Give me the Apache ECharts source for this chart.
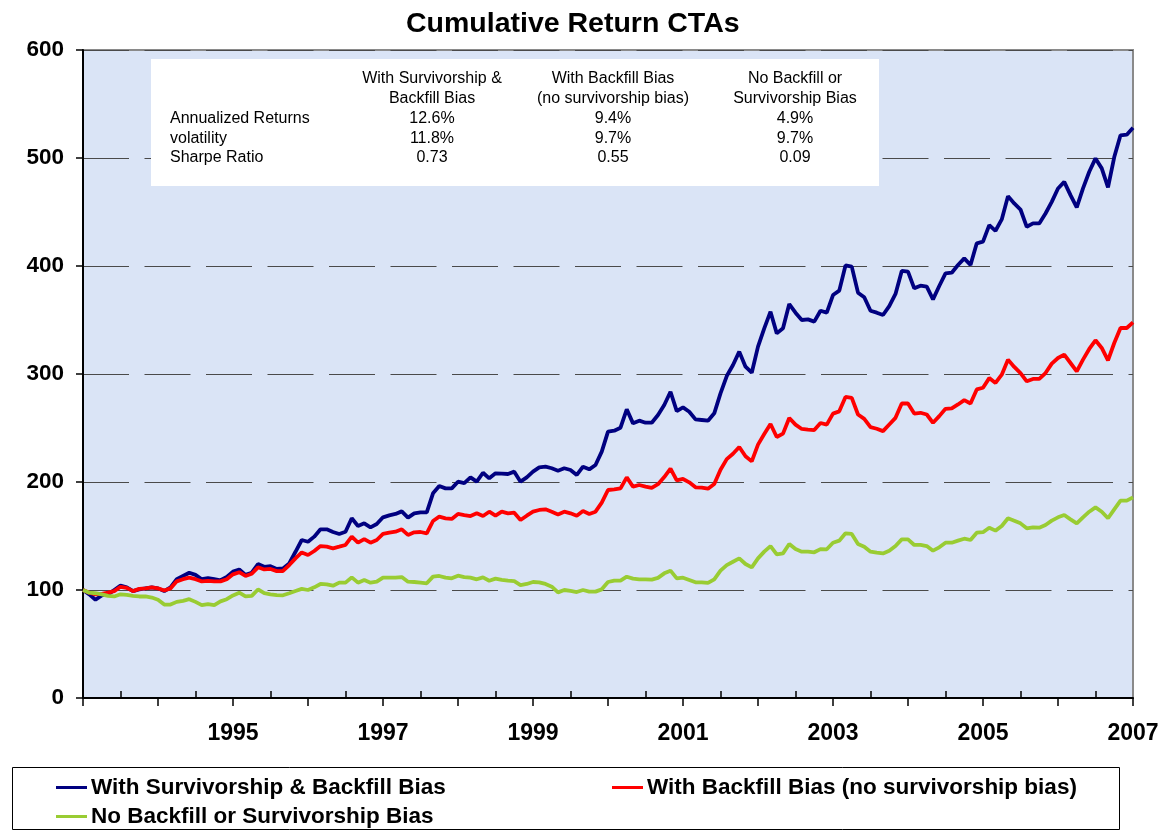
<!DOCTYPE html>
<html>
<head>
<meta charset="utf-8">
<title>Cumulative Return CTAs</title>
<script src="https://cdn.jsdelivr.net/npm/echarts@6/dist/echarts.min.js"></script>
<style>
  html, body { margin: 0; padding: 0; background: #fff; }
  #chart { width: 1166px; height: 831px; }
</style>
</head>
<body>
<div id="chart"></div>
<script>
// monthly categories, Jan 1993 .. Jan 2007
var months = [];
for (var y = 1993; y <= 2006; y++) {
  for (var m = 1; m <= 12; m++) months.push(y + '-' + (m < 10 ? '0' + m : m));
}
months.push('2007-01');

// cumulative return index (start = 100)
var survBackfill = [
  100, 96, 91, 95, 96, 100, 104, 102.5, 99, 100.5, 101.5, 102.5,
  101.5, 99, 102.5, 110, 113, 116, 114, 110, 111, 110, 109, 112,
  117, 119, 114, 116, 124, 121.5, 122, 119.5, 120, 124.6, 135.4, 146.3,
  144.7, 149.4, 156.2, 156.2, 153.7, 151.9, 154, 166.4, 159.3, 161.7, 158, 161.1,
  167.3, 169.1, 170.4, 172.8, 167, 171, 171.9, 171.9, 189.5, 196.3, 194.1, 194.1,
  200.3, 199, 204.3, 200.3, 208.6, 203.4, 208, 207.7, 207.4, 209.6, 200.3, 204.3,
  209.6, 213.6, 214.2, 212.7, 210.5, 212.7, 211.1, 206.5, 214.2, 211.7, 215.7, 228.1,
  246.6, 247.5, 250.3, 267.3, 254.3, 256.8, 254.9, 254.9, 262, 271.3, 283.6, 265.7,
  269.1, 265.1, 258, 257.4, 256.8, 263.6, 282.1, 298.1, 308.3, 320.7, 306.8, 301.2,
  325.3, 342.3, 357.7, 337.6, 342.3, 364.8, 356.8, 350, 350.6, 348.5, 358.6, 356.8,
  373.1, 377.2, 400.5, 399.4, 375.3, 371, 358.6, 356.8, 354.6, 362.9, 374.1, 395.4,
  394.8, 379.3, 381.8, 380.9, 369.1, 381.5, 393.2, 393.8, 400.9, 407.1, 400.9, 421,
  422.5, 437.8, 432.6, 443.1, 464.7, 457.9, 452.3, 436.3, 439.4, 439.4, 448.6, 459.4,
  471.8, 477.9, 465.6, 454.3, 471.8, 487.3, 499.6, 490.4, 472.8, 500.9, 521, 521.6,
  528
];
var backfillOnly = [
  100, 97.5, 96, 96.5, 97.5, 99, 103, 102, 99, 101, 101.5, 102.5,
  101.5, 99.5, 101.5, 108, 110, 111.5, 110, 108, 108.5, 108, 108, 110,
  114.5, 116.5, 113, 115, 121, 119, 119.5, 117.5, 117.6, 123.1, 129.3, 134.8,
  132.4, 136.1, 140.7, 140.1, 138.6, 140.1, 141.7, 149.4, 143.8, 147.2, 143.8, 146.3,
  151.9, 153.1, 154, 156.2, 151, 153.4, 153.7, 152.5, 163.9, 167.9, 166.4, 165.8,
  170.4, 169.4, 168.5, 171, 168.5, 172.5, 168.8, 172.5, 171, 171.6, 164.8, 168.8,
  172.5, 174.1, 174.7, 172.5, 170, 172.5, 171, 168.8, 173.1, 170.4, 172.5, 180.9,
  192.6, 193.2, 194.1, 204.3, 195.7, 197.2, 195.7, 194.6, 198, 204.6, 212.3, 201.5,
  202.8, 199.7, 195.1, 194.8, 193.8, 198.1, 211.4, 221.2, 226.2, 232.4, 223.8, 219.1,
  234.6, 244.4, 253.7, 241.7, 244.8, 259.3, 253.1, 249.1, 248.5, 248.1, 254.6, 253.1,
  263.3, 265.4, 278.8, 277.9, 262.5, 258.5, 250.8, 249.3, 247.1, 253.3, 259.4, 272.7,
  272.7, 263.4, 264.1, 262.5, 254.8, 261, 267.8, 268.1, 271.8, 275.8, 272.7, 285.7,
  287.3, 296.2, 291.7, 299.4, 313.3, 306.5, 300.9, 293.2, 295.4, 295.4, 300.9, 309.6,
  314.8, 317.9, 310.2, 302.5, 313.3, 323.2, 331.2, 324.1, 312.7, 328.7, 342.6, 342.6,
  347.8
];
var noBias = [
  100, 97.5, 97, 96, 94.5, 94, 96, 95.5, 94.5, 94, 94, 93,
  91, 86.5, 86.5, 89, 90, 91.5, 89, 86, 87, 86, 89.5, 91.5,
  95, 97.5, 94, 94.5, 100.5, 97, 96, 95.2, 95.1, 97, 99.1, 101,
  100, 102.5, 105.6, 105.3, 104, 106.8, 106.8, 111.7, 106.8, 109.3, 106.8, 107.7,
  111.4, 111.4, 111.4, 112, 107.7, 107.4, 106.8, 106.2, 112.4, 113, 111.4, 110.8,
  113.3, 112, 111.4, 109.9, 111.7, 108.6, 110.5, 109.3, 108.6, 108.3, 104.6, 105.6,
  107.4, 107.1, 105.6, 103.1, 97.8, 100, 99.1, 98.1, 100, 98.5, 98.5, 100.6,
  107.4, 108.6, 108.6, 112.3, 110.5, 109.9, 109.9, 109.6, 111.2, 115.4, 117.9, 110.8,
  111.4, 109.3, 107.1, 107.1, 106.5, 109.9, 117.9, 123.1, 126.2, 129.3, 124.1, 121,
  129.3, 135.5, 140.7, 133, 133.9, 142.6, 137.9, 135.5, 135.5, 134.9, 137.9, 137.7,
  143.8, 145.7, 152.5, 151.9, 142.6, 140.1, 135.5, 134.6, 133.9, 136.4, 140.7, 146.9,
  146.9, 141.7, 141.7, 140.7, 136.4, 139.5, 143.8, 143.8, 145.7, 147.5, 146.3, 153.1,
  153.5, 157.7, 155, 159.3, 166.4, 164.2, 161.7, 157.1, 158, 157.7, 160.2, 164.2,
  167.3, 169.4, 165.4, 161.7, 167.3, 172.5, 176.5, 172.5, 166.4, 174.7, 182.7, 182.7,
  185.8
];

var seriesNames = [
  'With Survivorship & Backfill Bias',
  'With Backfill Bias (no survivorship bias)',
  'No Backfill or Survivorship Bias'
];
var seriesColors = ['#000080', '#FF0000', '#99CC33'];

// summary table
var tableHeads = [
  ['With Survivorship &', 'Backfill Bias'],
  ['With Backfill Bias', '(no survivorship bias)'],
  ['No Backfill or', 'Survivorship Bias']
];
var tableRows = ['Annualized Returns', 'volatility', 'Sharpe Ratio'];
var annualReturns = ['12.6%', '9.4%', '4.9%'];
var volatility = ['11.8%', '9.7%', '9.7%'];
var sharpe = ['0.73', '0.55', '0.09'];

var FONT = '"Liberation Sans", Arial, sans-serif';

function buildTable() {
  var colX = [432, 613, 795];
  var rowY = [119, 139, 158];
  var values = [annualReturns, volatility, sharpe];
  var els = [{
    type: 'rect', shape: { x: 151, y: 59, width: 728, height: 127 },
    style: { fill: '#fff' }, z: 10
  }];
  function txt(s, x, y, align) {
    return {
      type: 'text', x: x, y: y, z: 11,
      style: { text: s, fill: '#000', fontSize: 16, fontFamily: FONT,
        textAlign: align, textVerticalAlign: 'middle' }
    };
  }
  tableHeads.forEach(function (h, c) {
    els.push(txt(h[0], colX[c], 79, 'center'));
    els.push(txt(h[1], colX[c], 98.5, 'center'));
  });
  tableRows.forEach(function (r, i) {
    els.push(txt(r, 170, rowY[i], 'left'));
    values[i].forEach(function (v, c) {
      els.push(txt(v, colX[c], rowY[i], 'center'));
    });
  });
  return els;
}

function makeLegend(i, left, top) {
  return {
    data: [seriesNames[i]], left: left, top: top, orient: 'horizontal', padding: 0,
    icon: 'rect', itemWidth: 31, itemHeight: 3, itemGap: 0,
    textStyle: { fontSize: 22.5, fontWeight: 'bold', color: '#000', fontFamily: FONT, padding: [0, 0, 0, -1] },
    selectedMode: false
  };
}

var chart = echarts.init(document.getElementById('chart'));
chart.setOption({
  animation: false,
  backgroundColor: '#fff',
  title: {
    text: 'Cumulative Return CTAs', left: 401, top: 5,
    textStyle: { fontSize: 28.5, fontWeight: 'bold', color: '#000', fontFamily: FONT }
  },
  graphic: [{
    type: 'rect', shape: { x: 12.5, y: 767.5, width: 1107, height: 62 },
    style: { fill: '#fff', stroke: '#000', lineWidth: 1 }, z: 0
  }].concat(buildTable()),
  legend: [
    makeLegend(0, 56, 776),
    makeLegend(1, 612, 776),
    makeLegend(2, 56, 805)
  ],
  grid: {
    left: 83, right: 33, top: 50, bottom: 133,
    show: true, backgroundColor: '#DAE4F6', borderColor: '#8a8a8a', borderWidth: 2
  },
  xAxis: [{
    type: 'category', data: months, boundaryGap: false,
    axisLine: { onZero: false, lineStyle: { color: '#000', width: 2 } },
    axisTick: {
      length: 8, lineStyle: { color: '#000', width: 1.5 },
      interval: function (i, v) { return v.slice(5) === '01'; }
    },
    axisLabel: {
      margin: 24, fontSize: 23, fontWeight: 'bold', color: '#000', fontFamily: FONT,
      interval: function (i, v) {
        var yr = +v.slice(0, 4);
        return v.slice(5) === '01' && yr % 2 === 1 && yr >= 1995;
      },
      formatter: function (v) { return v.slice(0, 4); }
    },
    splitLine: { show: false }
  }, {
    type: 'category', data: months, boundaryGap: false, position: 'bottom',
    axisLine: { show: false },
    axisTick: {
      inside: true, length: 7, lineStyle: { color: '#000', width: 1.5 },
      interval: function (i, v) { return v.slice(5) === '07'; }
    },
    axisLabel: { show: false },
    splitLine: { show: false }
  }],
  yAxis: {
    type: 'value', min: 0, max: 600, interval: 100,
    axisLine: { show: true, lineStyle: { color: '#000', width: 2 } },
    axisTick: { show: true, length: 7, lineStyle: { color: '#000', width: 1.5 } },
    axisLabel: { margin: 19, fontSize: 22.5, fontWeight: 'bold', color: '#000', fontFamily: FONT },
    splitLine: { lineStyle: { color: '#4a4a4a', width: 1.2, type: [46, 15.5] } }
  },
  series: [survBackfill, backfillOnly, noBias].map(function (d, i) {
    return {
      name: seriesNames[i], type: 'line', data: d, xAxisIndex: 0,
      symbol: 'none', smooth: false,
      lineStyle: { color: seriesColors[i], width: 3.8 },
      itemStyle: { color: seriesColors[i] },
      z: 3 + i
    };
  })
});
</script>
</body>
</html>
